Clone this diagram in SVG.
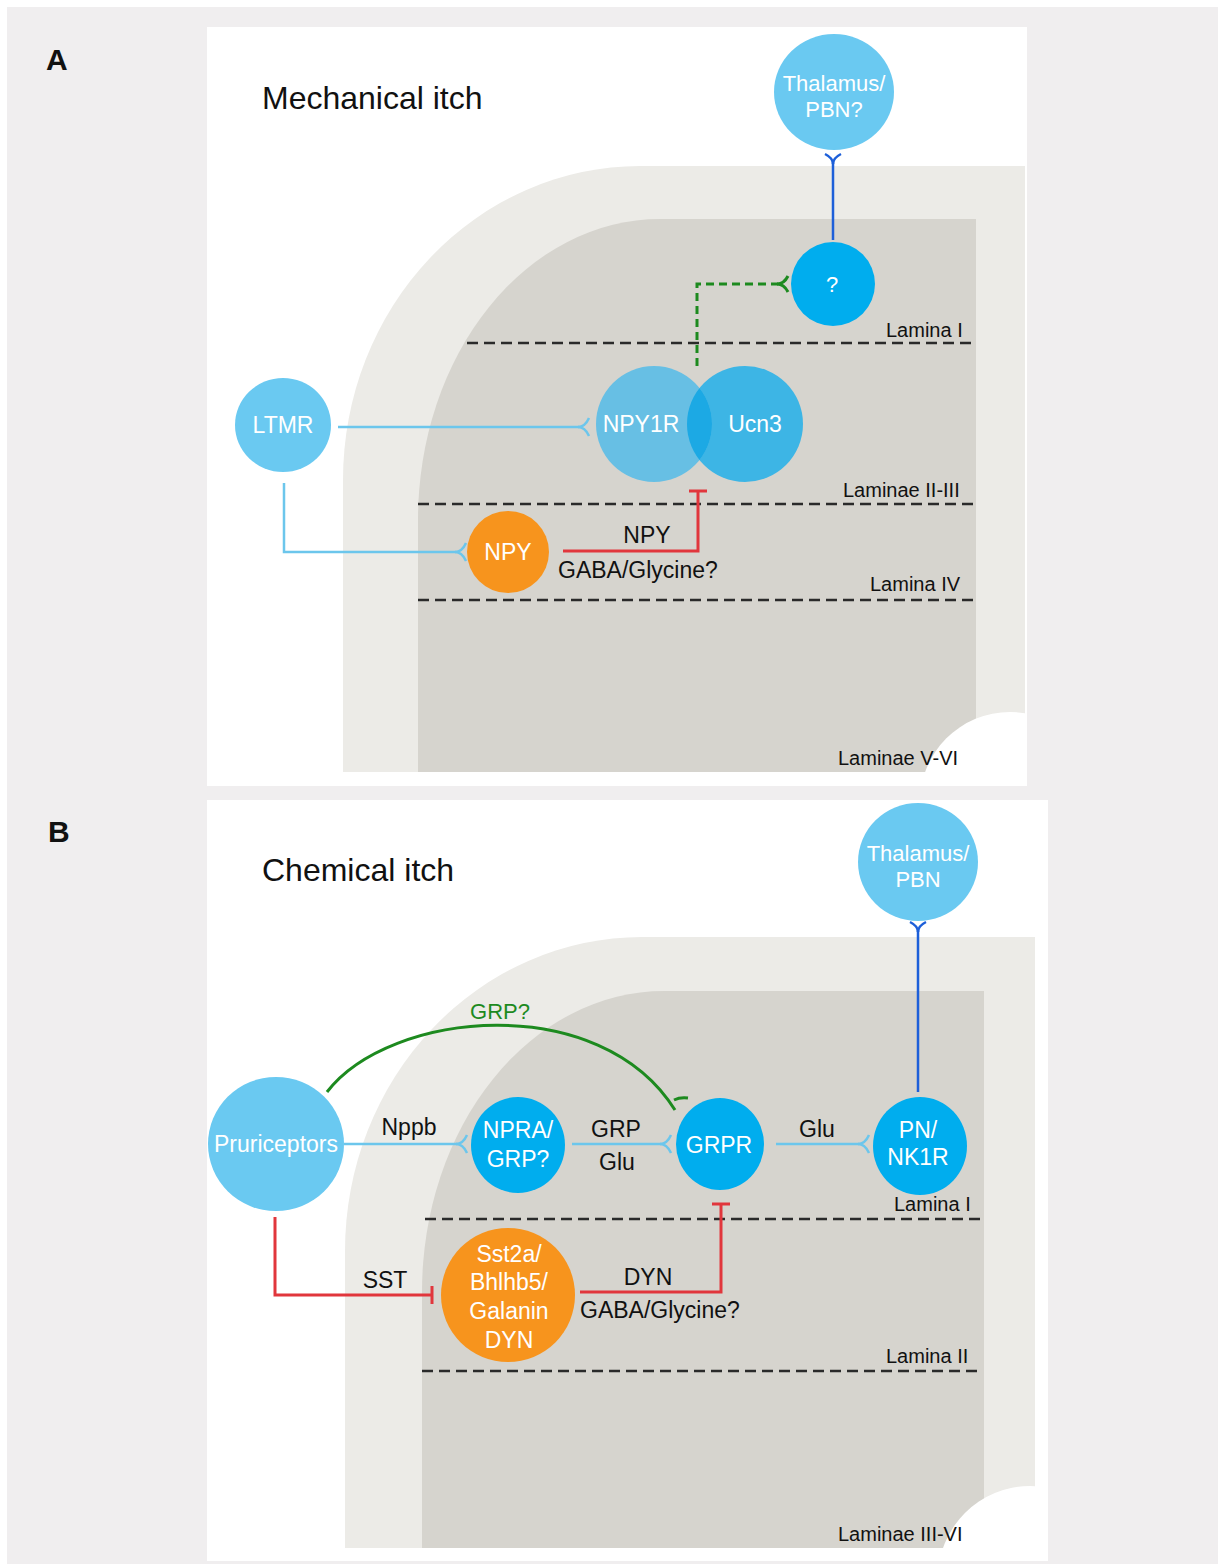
<svg xmlns="http://www.w3.org/2000/svg" width="1221" height="1564" viewBox="0 0 1221 1564">
  <defs>
    <style>
      text { font-family: "Liberation Sans", Arial, sans-serif; }
      .panel-label { font-size: 30px; font-weight: bold; fill: #111; }
      .title { font-size: 32px; fill: #111; }
      .lamina { font-size: 20px; fill: #111; }
      .lbl { font-size: 23px; fill: #111; text-anchor: middle; }
      .lbl-l { font-size: 23px; fill: #111; }
      .node-t { font-size: 22px; fill: #ffffff; text-anchor: middle; }
      .node-t2 { font-size: 23px; fill: #ffffff; text-anchor: middle; }
      .band { fill: #ecebe7; }
      .inner { fill: #d6d4ce; }
      .lamina-line { stroke: #2a2a2a; stroke-width: 2.5; stroke-dasharray: 11 6; fill: none; }
      .n-light { fill: #6ac9f1; }
      .n-bright { fill: #00adee; }
      .n-orange { fill: #f7941d; }
      .c-light { stroke: #6cc6ec; stroke-width: 2.5; fill: none; }
      .c-dark { stroke: #1d5fd9; stroke-width: 2.5; fill: none; }
      .c-red { stroke: #e1363c; stroke-width: 3; fill: none; }
      .c-green { stroke: #1d8a1f; stroke-width: 3; fill: none; }
      .c-green-dash { stroke: #1d8a1f; stroke-width: 3; fill: none; stroke-dasharray: 8 5; }
    </style>
    <!-- excitatory synapse forks, opening along the line direction -->
    <marker id="fork-light" markerUnits="userSpaceOnUse" viewBox="-2 -12 16 24" markerWidth="16" markerHeight="24" refX="0" refY="0" orient="auto">
      <path d="M10,-9 Q6,0 -1,0 Q6,0 10,9" fill="none" stroke="#6cc6ec" stroke-width="2.5"/>
    </marker>
    <marker id="fork-dark" markerUnits="userSpaceOnUse" viewBox="-2 -12 16 24" markerWidth="16" markerHeight="24" refX="0" refY="0" orient="auto">
      <path d="M9,-8 Q5,0 -1,0 Q5,0 9,8" fill="none" stroke="#1d5fd9" stroke-width="2.5"/>
    </marker>
    <!-- inhibitory bar -->
    <marker id="bar-red" markerUnits="userSpaceOnUse" viewBox="-4 -12 8 24" markerWidth="8" markerHeight="24" refX="0" refY="0" orient="auto">
      <path d="M0,-9 L0,9" fill="none" stroke="#e1363c" stroke-width="3"/>
    </marker>
    <clipPath id="clip-a"><rect x="343" y="166" width="682" height="606"/></clipPath>
    <clipPath id="clip-b"><rect x="345" y="937" width="690" height="611"/></clipPath>
    <clipPath id="clip-npy1r"><circle cx="654" cy="424" r="58"/></clipPath>
  </defs>

  <!-- page -->
  <rect x="0" y="0" width="1221" height="1564" fill="#ffffff"/>
  <rect x="7" y="7" width="1211" height="1557" fill="#f0eeef"/>

  <!-- ===== Panel A ===== -->
  <g id="panel-a-bg">
    <rect x="207" y="27" width="820" height="759" fill="#ffffff"/>
    <path class="band" d="M343,772 L343,480 A297,314 0 0 1 640,166 L1025,166 L1025,772 Z"/>
    <path class="inner" d="M418,772 L418,520 A242,301 0 0 1 660,219 L976,219 L976,772 Z"/>
    <circle cx="1010" cy="802" r="90" fill="#ffffff" clip-path="url(#clip-a)"/>
    <line class="lamina-line" x1="467" y1="343" x2="975" y2="343"/>
    <line class="lamina-line" x1="418" y1="504" x2="975" y2="504"/>
    <line class="lamina-line" x1="418" y1="600" x2="975" y2="600"/>
  </g>
  <text class="panel-label" x="46" y="70">A</text>
  <text class="title" x="262" y="109">Mechanical itch</text>
  <g id="laminae-a">
    <text class="lamina" x="886" y="337">Lamina I</text>
    <text class="lamina" x="843" y="497">Laminae II-III</text>
    <text class="lamina" x="870" y="591">Lamina IV</text>
    <text class="lamina" x="838" y="765">Laminae V-VI</text>
  </g>

  <g id="connectors-a">
    <path class="c-dark" d="M833,240 L833,163" marker-end="url(#fork-dark)"/>
    <path class="c-green-dash" d="M697,366 L697,284 L778,284"/>
    <path d="M788,276 Q784,284 777,284 Q784,284 788,292" fill="none" stroke="#1d8a1f" stroke-width="3"/>
    <path class="c-light" d="M338,427 L579,427" marker-end="url(#fork-light)"/>
    <path class="c-light" d="M284,483 L284,552 L456,552" marker-end="url(#fork-light)"/>
    <path class="c-red" d="M563,551 L698,551 L698,491" marker-end="url(#bar-red)"/>
    <text class="lbl" x="647" y="543">NPY</text>
    <text class="lbl-l" x="558" y="578">GABA/Glycine?</text>
  </g>

  <g id="node-thalamus-a">
    <ellipse class="n-light" cx="834" cy="92" rx="60" ry="58"/>
    <text class="node-t" x="834" y="91">Thalamus/</text>
    <text class="node-t" x="834" y="117">PBN?</text>
  </g>
  <g id="node-unknown">
    <circle class="n-bright" cx="833" cy="284" r="42"/>
    <text class="node-t" x="832" y="292">?</text>
  </g>
  <g id="node-npy1r-ucn3">
    <circle cx="745" cy="424" r="58" fill="#3db5e5"/>
    <circle cx="654" cy="424" r="58" fill="#67bfe4"/>
    <circle cx="745" cy="424" r="58" fill="#1ca9e4" clip-path="url(#clip-npy1r)"/>
    <text class="node-t2" x="641" y="432">NPY1R</text>
    <text class="node-t2" x="755" y="432">Ucn3</text>
  </g>
  <g id="node-ltmr">
    <ellipse class="n-light" cx="283" cy="425" rx="48" ry="47"/>
    <text class="node-t2" x="283" y="433">LTMR</text>
  </g>
  <g id="node-npy">
    <ellipse class="n-orange" cx="508" cy="552" rx="41" ry="41"/>
    <text class="node-t2" x="508" y="560">NPY</text>
  </g>

  <!-- ===== Panel B ===== -->
  <g id="panel-b-bg">
    <rect x="207" y="800" width="841" height="761" fill="#ffffff"/>
    <path class="band" d="M345,1548 L345,1251 A297,314 0 0 1 642,937 L1035,937 L1035,1548 Z"/>
    <path class="inner" d="M422,1548 L422,1292 A242,301 0 0 1 664,991 L984,991 L984,1548 Z"/>
    <circle cx="1030" cy="1578" r="92" fill="#ffffff" clip-path="url(#clip-b)"/>
    <line class="lamina-line" x1="425" y1="1219" x2="985" y2="1219"/>
    <line class="lamina-line" x1="422" y1="1371" x2="983" y2="1371"/>
  </g>
  <text class="panel-label" x="48" y="842">B</text>
  <text class="title" x="262" y="881">Chemical itch</text>
  <g id="laminae-b">
    <text class="lamina" x="894" y="1211">Lamina I</text>
    <text class="lamina" x="886" y="1363">Lamina II</text>
    <text class="lamina" x="838" y="1541">Laminae III-VI</text>
  </g>

  <g id="connectors-b">
    <path class="c-dark" d="M918,1092 L918,931" marker-end="url(#fork-dark)"/>
    <path class="c-green" d="M327,1092 C390,1010 600,990 675,1110"/>
    <path d="M674,1100 Q680,1097 688,1098" fill="none" stroke="#1d8a1f" stroke-width="3"/>
    <text x="500" y="1019" font-size="22" fill="#1d8a1f" text-anchor="middle">GRP?</text>
    <path class="c-light" d="M344,1144 L457,1144" marker-end="url(#fork-light)"/>
    <path class="c-light" d="M572,1144 L661,1144" marker-end="url(#fork-light)"/>
    <path class="c-light" d="M776,1144 L859,1144" marker-end="url(#fork-light)"/>
    <text class="lbl" x="409" y="1135">Nppb</text>
    <text class="lbl" x="616" y="1137">GRP</text>
    <text class="lbl" x="617" y="1170">Glu</text>
    <text class="lbl" x="817" y="1137">Glu</text>
    <path class="c-red" d="M275,1217 L275,1295 L432,1295" marker-end="url(#bar-red)"/>
    <text class="lbl" x="385" y="1288">SST</text>
    <path class="c-red" d="M580,1292 L721,1292 L721,1204" marker-end="url(#bar-red)"/>
    <text class="lbl" x="648" y="1285">DYN</text>
    <text class="lbl-l" x="580" y="1318">GABA/Glycine?</text>
  </g>

  <g id="node-thalamus-b">
    <ellipse class="n-light" cx="918" cy="862" rx="60" ry="59"/>
    <text class="node-t" x="918" y="861">Thalamus/</text>
    <text class="node-t" x="918" y="887">PBN</text>
  </g>
  <g id="node-pn-nk1r">
    <ellipse class="n-bright" cx="920" cy="1146" rx="47" ry="49"/>
    <text class="node-t2" x="918" y="1138">PN/</text>
    <text class="node-t2" x="918" y="1165">NK1R</text>
  </g>
  <g id="node-grpr">
    <ellipse class="n-bright" cx="720" cy="1144" rx="44" ry="46"/>
    <text class="node-t2" x="719" y="1153">GRPR</text>
  </g>
  <g id="node-npra">
    <ellipse class="n-bright" cx="518" cy="1145" rx="47" ry="48"/>
    <text class="node-t2" x="518" y="1138">NPRA/</text>
    <text class="node-t2" x="518" y="1167">GRP?</text>
  </g>
  <g id="node-pruriceptors">
    <ellipse class="n-light" cx="276" cy="1144" rx="68" ry="67"/>
    <text class="node-t2" x="276" y="1152">Pruriceptors</text>
  </g>
  <g id="node-sst2a">
    <ellipse class="n-orange" cx="508" cy="1295" rx="67" ry="67"/>
    <text class="node-t2" x="509" y="1262">Sst2a/</text>
    <text class="node-t2" x="509" y="1290">Bhlhb5/</text>
    <text class="node-t2" x="509" y="1319">Galanin</text>
    <text class="node-t2" x="509" y="1348">DYN</text>
  </g>
</svg>
